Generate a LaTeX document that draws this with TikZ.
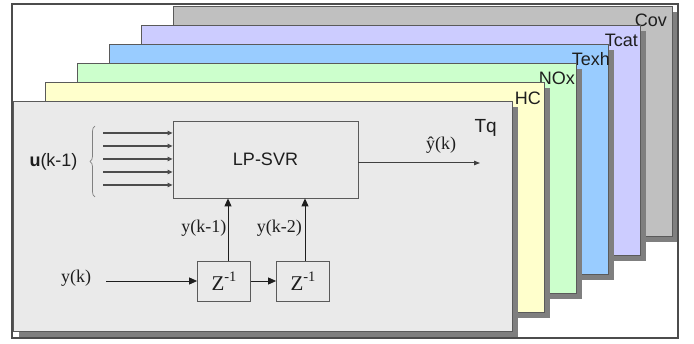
\documentclass[tikz,border=0pt]{standalone}
\usepackage{fontspec}
\setmainfont{Liberation Serif}
\setsansfont{Liberation Sans}
\usetikzlibrary{arrows.meta,decorations.pathreplacing}

\definecolor{tqfill}{HTML}{EAEAEA}
\definecolor{hcfill}{HTML}{FFFFCC}
\definecolor{noxfill}{HTML}{CCFFCC}
\definecolor{texhfill}{HTML}{99CCFF}
\definecolor{tcatfill}{HTML}{CCCCFF}
\definecolor{covfill}{HTML}{C0C0C0}
\definecolor{shadowgray}{HTML}{7F7F7F}
\definecolor{edgegray}{HTML}{5A5A5A}
\definecolor{inkgray}{HTML}{1E1E1E}

% delay element label: Z with a raised -1
\newcommand{\zinvtext}{{\fontsize{21}{21}\selectfont Z}\raisebox{8.5pt}{\fontsize{14.5}{14.5}\selectfont -1}}

\tikzset{
  layerline/.style={draw=edgegray, line width=0.8pt},
  layerlab/.style={font=\sffamily\fontsize{18}{18}\selectfont, text=inkgray, inner sep=0pt, anchor=base east},
  blockbox/.style={draw=edgegray, line width=0.8pt, fill=tqfill, inner sep=0pt,
    font=\sffamily\fontsize{18}{18}\selectfont, text=inkgray},
  zbox/.style={draw=edgegray, line width=0.8pt, fill=tqfill, inner sep=0pt,
    minimum width=53pt, minimum height=40pt, text=inkgray},
  seriflab/.style={font=\fontsize{18}{18}\selectfont, text=inkgray, inner sep=0pt},
  arr/.style={-{Triangle[length=8pt,width=7pt]}, line width=0.9pt, draw=inkgray},
  inarr/.style={-{Triangle[length=5pt,width=4.5pt]}, line width=1.1pt, draw=black!70},
  outarr/.style={-{Triangle[length=6pt,width=4.5pt]}, line width=1pt, draw=black!75},
}

\begin{document}
\begin{tikzpicture}[x=1pt,y=-1pt]
\useasboundingbox (0,0) rectangle (694,344);
\fill[white] (0,0) rectangle (694,344);

% stacked model layers, back to front, each with a drop shadow
\foreach \i/\col/\lab/\lx/\ly in {5/covfill/Cov/667/27, 4/tcatfill/Tcat/638/47,
    3/texhfill/Texh/610/66, 2/noxfill/NOx/575/85, 1/hcfill/HC/541/105} {
  \fill[shadowgray] (19+32*\i,107-19*\i) rectangle (518+32*\i,337-19*\i);
  \draw[layerline, fill=\col] (13+32*\i,101-19*\i) rectangle (512+32*\i,331-19*\i);
  \node[layerlab] (lab\i) at (\lx,\ly) {\lab};
}

% front layer: the torque model
\fill[shadowgray] (19,107) rectangle (518,337);
\draw[layerline, fill=tqfill] (13,101) rectangle (512,331);
\node[layerlab, font=\sffamily\fontsize{19}{19}\selectfont] (tq) at (497,133) {Tq};

% regression block and delay elements
\node[blockbox, minimum width=185pt, minimum height=77pt] (lp) at (265.5,159.5) {LP-SVR};
\node[zbox] (z1) at (224,281) {\zinvtext};
\node[zbox] (z2) at (303,281) {\zinvtext};

% input vector u(k-1)
\node[font=\sffamily\fontsize{18}{18}\selectfont, text=inkgray, inner sep=0pt] (u) at (53.5,162)
  {\textbf{u}(k-1)};
\coordinate (bracebot) at (95,197);
\coordinate (bracetop) at (95,126);
\draw[decorate, decoration={brace, amplitude=5pt}, draw=gray, line width=0.7pt]
  (bracebot) -- (bracetop);
\foreach \k/\yy in {1/133,2/146,3/159,4/172,5/185} {
  \coordinate (in\k) at (103,\yy);
  \draw[inarr] (in\k) -- (in\k -| lp.west);
}

% output
\coordinate (out) at (480,163);
\draw[outarr] (lp.east |- out) -- (out);
\node[seriflab] (yhat) at (441,145) {ŷ(k)};

% measured output and its delays
\node[seriflab] (yk) at (76,278) {y(k)};
\coordinate (ykin) at (106,281);
\draw[arr] (ykin) -- (z1.west);
\draw[arr] (z1.east) -- (z2.west);
\draw[arr] ([xshift=4pt]z1.north) -- ([xshift=4pt]z1.north |- lp.south);
\draw[arr] ([xshift=2pt]z2.north) -- ([xshift=2pt]z2.north |- lp.south);
\node[seriflab, anchor=east] (yk1) at (226.5,228) {y(k-1)};
\node[seriflab, anchor=east] (yk2) at (302,228) {y(k-2)};

% outer frame
\draw[draw=black!70, line width=2pt] (11.5,4.5) rectangle (678,338);
\end{tikzpicture}
\end{document}
